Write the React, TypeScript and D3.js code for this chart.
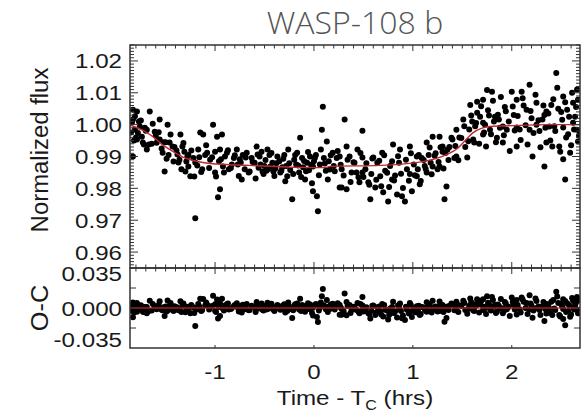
import React from "react";
import * as d3 from "d3";

// ---- data (time in hrs from Tc, normalized flux, O-C residual)
const timeHrs = [
  -1.83, -1.79, -1.83, -1.76, -1.81, -1.74, -1.79, -1.73, -1.83, -1.69, -1.66, -1.69, -1.61, -1.56, -1.58, -1.48,
  -1.45, -1.53, -1.51, -1.56, -1.43, -1.35, -1.38, -1.33, -1.37, -1.28, -1.27, -1.25, -1.30, -1.20, -1.20, -1.15,
  -1.12, -1.17, -1.08, -1.02, -0.98, -0.93, -0.95, -1.0, -0.95, -0.97, -0.88, -0.92, -0.83, -0.78, -0.75, -0.68,
  -0.73, -0.65, -0.58, -0.55, -0.52, -0.47, -0.44, -0.41, -0.37, -0.32, -0.27, -0.22, -0.26, -0.17, -0.14, -0.11,
  -0.09, -0.04, -0.01, 0.03, 0.04, -0.01, 0.08, 0.09, 0.13, 0.16, 0.19, 0.31, 0.26, 0.33, 0.49, 0.26,
  0.33, 0.36, 0.44, 0.49, 0.60, 0.69, 0.80, 0.87, 0.97, 1.04, 1.14, 1.27, 1.20, 1.30, 1.35, 1.40,
  1.44, 1.51, 1.58, 1.65, 1.71, 1.75, 1.80, 1.65, 1.71, 1.83, 1.86, 1.95, 2.0, 2.05, 2.10, 2.15,
  2.18, 2.25, 2.31, 2.35, 2.40, 2.45, 2.46, 2.52, 2.56, 2.62, 2.67, 0.28, 0.46, 0.49, 0.55, 0.57,
  0.62, 0.67, 0.70, 0.75, 0.79, 0.84, 0.89, 0.92, 0.99, 1.04, 1.07, 1.14, 1.20, 1.32, 1.34, 1.27,
  1.44, 1.55, 1.61, 1.71, 1.85, 1.91, 2.05, 2.21, 2.33, 2.35, 2.41, 2.48, 2.52, 2.54, 2.59, 2.66,
  2.67, 1.78, 1.91, 2.05, 2.18, 2.25, 2.38, 2.52, 2.62, 2.69,
  -1.27, -1.22, -1.18, -1.13, -1.10, -1.05, -1.0, -0.96, -0.90, -0.86, -0.81, -0.77, -0.72, -0.70, -0.63, -0.60,
  -0.56, -0.53, -0.50, -0.48, -0.45, -0.42, -0.39, -0.35, -0.33, -0.30, -0.28, -0.24, -0.20, -0.18, -0.15, -0.12,
  -0.07, -0.05, 0.0, 0.02, 0.06, 0.10, 0.12, 0.15, 0.20, 0.23, 0.28, 0.38, 0.41, 0.45, 0.52, 0.58,
  0.64, 0.72, 0.77, 0.82, 0.86, 0.94, 0.97, 1.01, 1.05, 1.09, 1.12, 1.16, 1.18, 1.23, 1.25, 1.30,
  1.37, 1.42, 1.47, 1.53, 1.57, 1.60, 1.63, 1.68, 1.72, 1.76, 1.82, 1.88, 1.93, 1.97, 2.02, 2.08,
  2.12, 2.20, 2.28, 2.33, 2.43, 2.50, 2.57, 2.64,
  -1.85, -1.80, -1.77, -1.71, -1.64, -1.60, -1.54, -1.50, -1.47, -1.41, -1.36, -1.31,
  -1.84, -1.82, -1.81, -1.78, -1.75, -1.72, -1.70, -1.67, -1.63, -1.59, -1.57, -1.52, -1.49, -1.46, -1.42, -1.39,
  -1.34, -1.32, -1.29, -1.24, -1.21, -1.16, -1.14, -1.09, -1.06, -1.03,
  -0.99, -0.94, -0.91, -0.87, -0.84, -0.80, -0.76, -0.74, -0.69, -0.66, -0.62, -0.59, -0.57, -0.54, -0.51, -0.49,
  -0.46, -0.43, -0.40, -0.38, -0.34, -0.31, -0.29, -0.25, -0.21, -0.19, -0.16, -0.13, -0.10, -0.08, -0.06, -0.03,
  -0.02, 0.01, 0.05, 0.07, 0.11, 0.14, 0.17, 0.21, 0.24, 0.27, 0.30, 0.34, 0.37, 0.40, 0.43, 0.47,
  0.50, 0.53, 0.56, 0.59, 0.63, 0.66, 0.68, 0.71, 0.74, 0.76, 0.79, 0.81, 0.85, 0.88, 0.90, 0.93,
  0.96, 0.98, 1.02, 1.06, 1.08, 1.11, 1.13, 1.17, 1.19, 1.22, 1.26, 1.28, 1.31, 1.33, 1.36, 1.39,
  1.43, 1.46, 1.49, 1.52, 1.56, 1.59, 1.62, 1.64, 1.67, 1.69, 1.73, 1.74, 1.77, 1.79, 1.81, 1.84,
  1.87, 1.89, 1.92, 1.94, 1.98, 2.01, 2.03, 2.06, 2.09, 2.11, 2.14, 2.16, 2.19, 2.22, 2.24, 2.27,
  2.29, 2.32, 2.34, 2.37, 2.39, 2.42, 2.44, 2.47, 2.49, 2.51, 2.54, 2.55, 2.58, 2.60, 2.61, 2.63,
  2.65, 2.66, 2.68,
];

const flux = [
  1.0047, 1.0041, 1.0016, 0.9994, 0.9984, 0.9962, 0.9953, 0.9944, 0.9900, 0.9922, 1.0041, 0.9984, 0.9978, 1.0016, 0.9953, 1.0000,
  0.9969, 0.9912, 0.9853, 0.9953, 0.9931, 0.9969, 0.9906, 0.9931, 0.9881, 0.9900, 0.9869, 0.9838, 0.9853, 0.9881, 0.9706, 0.9975,
  0.9969, 0.9922, 0.9912, 1.0000, 0.9962, 0.9969, 0.9922, 0.9850, 0.9797, 0.9772, 0.9912, 0.9869, 0.9875, 0.9922, 0.9891, 0.9912,
  0.9828, 0.9853, 0.9931, 0.9900, 0.9853, 0.9922, 0.9869, 0.9853, 0.9900, 0.9866, 0.9838, 0.9766, 0.9922, 0.9912, 0.9959, 0.9866,
  0.9828, 0.9900, 0.9791, 0.9775, 0.9728, 0.9869, 0.9984, 1.0056, 0.9947, 0.9859, 0.9912, 1.0016, 0.9803, 0.9797, 0.9981, 0.9900,
  0.9931, 0.9900, 0.9922, 0.9897, 0.9897, 0.9912, 0.9938, 0.9922, 0.9931, 0.9900, 0.9944, 0.9962, 0.9962, 0.9931, 0.9922, 0.9953,
  0.9984, 1.0016, 1.0062, 1.0072, 1.0078, 1.0109, 1.0103, 1.0037, 1.0006, 1.0025, 1.0031, 0.9984, 1.0103, 1.0078, 1.0103, 1.0047,
  1.0125, 1.0069, 1.0016, 1.0041, 1.0062, 1.0162, 1.0116, 1.0088, 1.0047, 1.0069, 1.0078, 0.9803, 0.9819, 0.9850, 0.9819, 0.9766,
  0.9803, 0.9838, 0.9788, 0.9759, 0.9828, 0.9781, 0.9775, 0.9759, 0.9791, 0.9838, 0.9813, 0.9850, 0.9869, 0.9766, 0.9806, 0.9869,
  0.9900, 0.9897, 0.9953, 0.9969, 0.9959, 0.9944, 0.9931, 0.9900, 0.9869, 0.9944, 0.9931, 0.9931, 0.9891, 0.9828, 0.9912, 0.9984,
  0.9947, 0.9984, 0.9994, 0.9991, 0.9984, 1.0000, 0.9994, 0.9991, 1.0006, 0.9978,
  0.9905, 0.9895, 0.9872, 0.9860, 0.9905, 0.9890, 0.9915, 0.9885, 0.9900, 0.9860, 0.9895, 0.9875, 0.9905, 0.9860, 0.9895, 0.9880,
  0.9865, 0.9915, 0.9870, 0.9855, 0.9905, 0.9880, 0.9862, 0.9885, 0.9855, 0.9905, 0.9870, 0.9858, 0.9890, 0.9875, 0.9850, 0.9895,
  0.9880, 0.9857, 0.9885, 0.9905, 0.9875, 0.9895, 0.9855, 0.9885, 0.9870, 0.9895, 0.9860, 0.9850, 0.9880, 0.9835, 0.9860, 0.9845,
  0.9880, 0.9855, 0.9870, 0.9840, 0.9880, 0.9860, 0.9845, 0.9875, 0.9860, 0.9895, 0.9870, 0.9905, 0.9880, 0.9910, 0.9860, 0.9915,
  0.9930, 0.9895, 0.9960, 0.9930, 0.9985, 1.0010, 0.9995, 1.0025, 0.9975, 1.0045, 1.0010, 0.9990, 1.0055, 1.0010, 1.0030, 0.9985,
  1.0060, 1.0020, 0.9980, 1.0030, 0.9995, 1.0040, 0.9970, 1.0025,
  0.9975, 0.9960, 1.0010, 0.9990, 0.9940, 0.9965, 0.9925, 0.9945, 0.9905, 0.9930, 0.9890, 0.9915,
  1.0007, 0.9950, 1.0026, 0.9974, 1.0013, 0.9938, 0.9981, 0.9938, 1.0003, 0.9943, 0.9976, 0.9945, 0.9893, 0.9944, 0.9884, 0.9919,
  0.9860, 0.9942, 0.9884, 0.9919, 0.9837, 0.9898, 0.9851, 0.9935, 0.9864, 0.9898,
  0.9837, 0.9891, 0.9850, 0.9920, 0.9864, 0.9904, 0.9839, 0.9881, 0.9897, 0.9850, 0.9883, 0.9831, 0.9906, 0.9875, 0.9845, 0.9889,
  0.9861, 0.9911, 0.9839, 0.9879, 0.9850, 0.9893, 0.9822, 0.9879, 0.9845, 0.9905, 0.9872, 0.9836, 0.9886, 0.9854, 0.9914, 0.9874,
  0.9816, 0.9896, 0.9841, 0.9922, 0.9878, 0.9828, 0.9904, 0.9854, 0.9917, 0.9874, 0.9840, 0.9890, 0.9820, 0.9882, 0.9850, 0.9911,
  0.9836, 0.9879, 0.9811, 0.9894, 0.9827, 0.9887, 0.9807, 0.9904, 0.9849, 0.9804, 0.9885, 0.9825, 0.9901, 0.9846, 0.9801, 0.9890,
  0.9824, 0.9910, 0.9841, 0.9905, 0.9823, 0.9889, 0.9861, 0.9928, 0.9844, 0.9902, 0.9883, 0.9929, 0.9862, 0.9911, 0.9889, 0.9959,
  0.9933, 0.9888, 0.9958, 0.9995, 0.9948, 1.0029, 0.9944, 1.0005, 0.9940, 1.0058, 1.0000, 0.9931, 1.0029, 0.9970, 1.0075, 0.9945,
  1.0016, 1.0087, 0.9967, 1.0042, 0.9917, 1.0057, 0.9982, 1.0027, 0.9952, 1.0083, 0.9998, 0.9938, 1.0043, 0.9974, 1.0094, 1.0014,
  0.9929, 1.0060, 0.9990, 1.0035, 0.9950, 1.0080, 0.9980, 1.0050, 0.9915, 1.0015, 1.0070, 0.9960, 1.0025, 0.9935, 1.0100, 0.9985,
  1.0055, 1.0110, 0.9965,
];

const residual = [
  0.0054, 0.0050, 0.0023, 0.0008, -0.0007, -0.0021, -0.0037, -0.0037, -0.0093, -0.0052, 0.0072, 0.0010, 0.0018, 0.0068, 0.0001, 0.0074,
  0.0049, -0.0023, -0.0079, 0.0005, 0.0015, 0.0068, 0.0000, 0.0033, -0.0023, 0.0007, -0.0023, -0.0052, -0.0042, -0.0005, -0.0180, 0.0093,
  0.0089, 0.0039, 0.0033, 0.0122, 0.0085, 0.0093, 0.0046, -0.0027, -0.0079, -0.0105, 0.0037, -0.0007, 0.0001, 0.0048, 0.0018, 0.0040,
  -0.0045, -0.0019, 0.0060, 0.0029, -0.0018, 0.0052, 0.0000, -0.0016, 0.0031, -0.0002, -0.0029, -0.0101, 0.0055, 0.0046, 0.0093, 0.0000,
  -0.0038, 0.0034, -0.0075, -0.0091, -0.0139, 0.0003, 0.0117, 0.0189, 0.0079, -0.0010, 0.0043, 0.0146, -0.0067, -0.0073, 0.0110, 0.0031,
  0.0061, 0.0030, 0.0051, 0.0026, 0.0025, 0.0040, 0.0063, 0.0045, 0.0051, 0.0018, 0.0057, 0.0064, 0.0072, 0.0030, 0.0015, 0.0038,
  0.0062, 0.0072, 0.0096, 0.0088, 0.0088, 0.0117, 0.0109, 0.0053, 0.0016, 0.0030, 0.0036, -0.0013, 0.0106, 0.0081, 0.0105, 0.0049,
  0.0127, 0.0070, 0.0016, 0.0041, 0.0062, 0.0162, 0.0116, 0.0088, 0.0047, 0.0069, 0.0078, -0.0067, -0.0052, -0.0021, -0.0053, -0.0106,
  -0.0069, -0.0034, -0.0085, -0.0115, -0.0047, -0.0095, -0.0102, -0.0119, -0.0090, -0.0044, -0.0070, -0.0037, -0.0021, -0.0137, -0.0100, -0.0029,
  -0.0022, -0.0058, -0.0022, -0.0021, -0.0036, -0.0052, -0.0066, -0.0098, -0.0131, -0.0056, -0.0069, -0.0069, -0.0109, -0.0172, -0.0088, -0.0016,
  -0.0053, -0.0010, -0.0003, -0.0006, -0.0014, 0.0001, -0.0006, -0.0009, 0.0006, -0.0022,
  0.0013, 0.0007, -0.0012, -0.0021, 0.0025, 0.0012, 0.0038, 0.0009, 0.0025, -0.0015, 0.0021, 0.0002, 0.0032, -0.0013, 0.0023, 0.0009,
  -0.0006, 0.0045, 0.0000, -0.0015, 0.0036, 0.0011, -0.0007, 0.0017, -0.0013, 0.0037, 0.0003, -0.0009, 0.0023, 0.0008, -0.0016, 0.0029,
  0.0014, -0.0009, 0.0019, 0.0039, 0.0008, 0.0027, -0.0013, 0.0016, 0.0001, 0.0026, -0.0010, -0.0020, 0.0010, -0.0036, -0.0011, -0.0027,
  0.0008, -0.0018, -0.0004, -0.0035, 0.0004, -0.0018, -0.0035, -0.0006, -0.0022, 0.0011, -0.0015, 0.0018, -0.0009, 0.0016, -0.0036, 0.0014,
  0.0020, -0.0023, 0.0028, -0.0020, 0.0022, 0.0038, 0.0017, 0.0038, -0.0015, 0.0052, 0.0015, -0.0006, 0.0059, 0.0013, 0.0033, -0.0012,
  0.0062, 0.0022, -0.0019, 0.0030, -0.0005, 0.0040, -0.0030, 0.0025,
  -0.0022, -0.0031, 0.0022, 0.0011, -0.0025, 0.0008, -0.0017, 0.0015, -0.0019, 0.0017, -0.0013, 0.0019,
  0.0010, -0.0045, 0.0035, -0.0015, 0.0028, -0.0040, 0.0005, -0.0030, 0.0040, -0.0012, 0.0030, 0.0008, -0.0035, 0.0022, -0.0030, 0.0010,
  -0.0040, 0.0045, -0.0010, 0.0030, -0.0050, 0.0015, -0.0030, 0.0055, -0.0015, 0.0020,
  -0.0040, 0.0015, -0.0025, 0.0045, -0.0010, 0.0030, -0.0035, 0.0008, 0.0025, -0.0022, 0.0012, -0.0040, 0.0035, 0.0005, -0.0025, 0.0020,
  -0.0008, 0.0042, -0.0030, 0.0010, -0.0018, 0.0025, -0.0045, 0.0012, -0.0022, 0.0038, 0.0005, -0.0030, 0.0020, -0.0012, 0.0048, 0.0008,
  -0.0050, 0.0030, -0.0025, 0.0055, 0.0010, -0.0040, 0.0035, -0.0015, 0.0048, 0.0005, -0.0030, 0.0020, -0.0050, 0.0012, -0.0020, 0.0040,
  -0.0035, 0.0008, -0.0060, 0.0022, -0.0045, 0.0015, -0.0065, 0.0030, -0.0025, -0.0070, 0.0010, -0.0050, 0.0025, -0.0030, -0.0075, 0.0012,
  -0.0055, 0.0030, -0.0040, 0.0022, -0.0060, 0.0005, -0.0025, 0.0040, -0.0045, 0.0010, -0.0015, 0.0030, -0.0040, 0.0008, -0.0020, 0.0045,
  0.0012, -0.0040, 0.0020, 0.0050, -0.0010, 0.0060, -0.0030, 0.0025, -0.0045, 0.0070, 0.0010, -0.0060, 0.0035, -0.0025, 0.0080, -0.0050,
  0.0020, 0.0090, -0.0030, 0.0045, -0.0080, 0.0060, -0.0015, 0.0030, -0.0045, 0.0085, 0.0000, -0.0060, 0.0045, -0.0025, 0.0095, 0.0015,
  -0.0070, 0.0060, -0.0010, 0.0035, -0.0050, 0.0080, -0.0020, 0.0050, -0.0085, 0.0015, 0.0070, -0.0040, 0.0025, -0.0065, 0.0100, -0.0015,
  0.0055, 0.0110, -0.0035,
];

// transit model curve
const modelTime = [-1.86, -1.75, -1.66, -1.5, -1.4, -1.32, -1.2, -1.05, -0.65, -0.14, 0.05, 0.13, 0.16, 0.67, 1.1, 1.34, 1.45, 1.51, 1.61, 1.7, 1.78, 2.01, 2.35, 2.69];
const modelFlux = [0.9998, 0.9985, 0.9969, 0.993, 0.9911, 0.9897, 0.9886, 0.9878, 0.9872, 0.9866, 0.9865, 0.9866, 0.9869, 0.9872, 0.9884, 0.9906, 0.9925, 0.9944, 0.9975, 0.9989, 0.9994, 0.9997, 1.0, 1.0];

const fluxTicks = [0.96, 0.97, 0.98, 0.99, 1.0, 1.01, 1.02];
const ocTicks = [0.035, 0, -0.035];
const timeTicks = [-1, 0, 1, 2];

const title = "WASP-108 b";

const W = 582, H = 419;
const L = 130, R = 580, T1 = 45, B1 = 268, B2 = 348;

export default function App() {
  const x = d3.scaleLinear().domain([-1.86, 2.69]).range([L, R]);
  const yTop = d3.scaleLinear().domain([0.955, 1.025]).range([B1, T1]);
  const yBot = d3.scaleLinear().domain([-0.04, 0.04]).range([B2, B1]);
  const line = d3.line<number>().x((_, i) => x(modelTime[i])).y((d) => yTop(d)).curve(d3.curveMonotoneX);

  const frame = "#333";
  const red = "#c0282d";
  const font = "'Liberation Sans', Arial, sans-serif";
  const sx = 1.15;

  const minorFlux = d3.range(955, 1026).map((v) => v / 1000);
  const minorTime = d3.range(-18, 27).map((v) => v / 10);

  const tickEls: React.ReactNode[] = [];
  minorFlux.forEach((v, i) => {
    const major = Math.round(v * 1000) % 10 === 0;
    const len = major ? 8 : 4;
    const yy = yTop(v);
    tickEls.push(<line key={"fl" + i} x1={L} x2={L + len} y1={yy} y2={yy} stroke={frame} strokeWidth={1} />);
    tickEls.push(<line key={"fr" + i} x1={R} x2={R - len} y1={yy} y2={yy} stroke={frame} strokeWidth={1} />);
  });
  minorTime.forEach((v, i) => {
    const major = Math.abs(v - Math.round(v)) < 1e-6;
    const len = major ? 6 : 3.5;
    const xx = x(v);
    tickEls.push(<line key={"tt" + i} x1={xx} x2={xx} y1={T1} y2={T1 + len} stroke={frame} strokeWidth={1} />);
    tickEls.push(<line key={"tb" + i} x1={xx} x2={xx} y1={B1 - len} y2={B1 + len} stroke={frame} strokeWidth={1} />);
  });
  [-0.02, 0, 0.02].forEach((v, i) => {
    const yy = yBot(v);
    tickEls.push(<line key={"ol" + i} x1={L} x2={L + 6} y1={yy} y2={yy} stroke={frame} strokeWidth={1} />);
    tickEls.push(<line key={"or" + i} x1={R} x2={R - 6} y1={yy} y2={yy} stroke={frame} strokeWidth={1} />);
  });
  timeTicks.forEach((v, i) => {
    const xx = x(v);
    tickEls.push(<line key={"bb" + i} x1={xx} x2={xx} y1={B2} y2={B2 - 3} stroke={frame} strokeWidth={1} />);
  });

  const sText = (key: string, px: number, py: number, txt: React.ReactNode, anchor: string, size: number) => (
    <text key={key} transform={`translate(${px},${py}) scale(${sx},1)`} textAnchor={anchor} fontFamily={font} fontSize={size} fill="#1a1a1a">
      {txt}
    </text>
  );

  return (
    <svg width={W} height={H} style={{ position: "absolute", left: 0, top: 0, background: "#fff" }}>
      <rect x={0} y={0} width={W} height={H} fill="#fff" />
      <text x={355} y={34} textAnchor="middle" fontFamily="'Open Sans', 'Noto Sans', sans-serif" fontWeight={300} fontSize={32} fill="#555">
        {title}
      </text>

      <defs>
        <clipPath id="clipTop"><rect x={L} y={T1} width={R - L} height={B1 - T1} /></clipPath>
        <clipPath id="clipBot"><rect x={L} y={B1} width={R - L} height={B2 - B1} /></clipPath>
      </defs>

      {/* top panel points */}
      <g clipPath="url(#clipTop)">
        {timeHrs.map((t, i) => (
          <circle key={"p" + i} cx={x(t)} cy={yTop(flux[i])} r={3} fill="#000" />
        ))}
        <path d={line(modelFlux) || ""} fill="none" stroke={red} strokeWidth={1.4} />
      </g>
      {/* bottom panel */}
      <g clipPath="url(#clipBot)">
        {timeHrs.map((t, i) => (
          <circle key={"r" + i} cx={x(t)} cy={yBot(residual[i])} r={3} fill="#000" />
        ))}
        <line x1={L} x2={R} y1={yBot(0)} y2={yBot(0)} stroke={red} strokeWidth={1.3} strokeOpacity={0.8} />
      </g>

      {tickEls}
      <rect x={L} y={T1} width={R - L} height={B1 - T1} fill="none" stroke={frame} strokeWidth={1.5} />
      <rect x={L} y={B1} width={R - L} height={B2 - B1} fill="none" stroke={frame} strokeWidth={1.5} />

      {fluxTicks.map((v) => sText("fy" + v, 122, yTop(v) + 7.5, v.toFixed(2), "end", 21))}
      {ocTicks.map((v) => sText("oy" + v, 122, Math.min(yBot(v), B2 - 9) + 7.5, v.toFixed(3), "end", 21))}
      {timeTicks.map((v) => sText("tx" + v, x(v), 379, String(v), "middle", 21))}
      {sText(
        "xl",
        355,
        405,
        <>
          Time - T<tspan fontSize={14} dy={5}>C</tspan>
          <tspan dy={-5}> (hrs)</tspan>
        </>,
        "middle",
        21
      )}
      <text transform={`translate(48,150) rotate(-90) scale(1.04,1)`} textAnchor="middle" fontFamily={font} fontSize={23} fill="#1a1a1a">
        Normalized flux
      </text>
      <text transform={`translate(48,${(B1 + B2) / 2}) rotate(-90) scale(1.1,1)`} textAnchor="middle" fontFamily={font} fontSize={23} fill="#1a1a1a">
        O-C
      </text>
    </svg>
  );
}
